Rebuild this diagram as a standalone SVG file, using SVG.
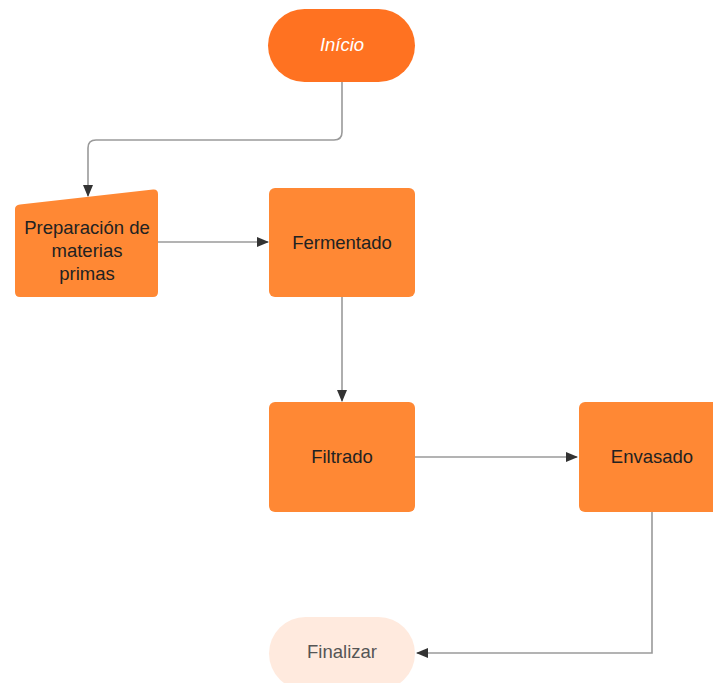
<svg xmlns="http://www.w3.org/2000/svg" width="713" height="683" viewBox="0 0 713 683">
<style>
.box{fill:#FF8834}
.lbl{font-family:"Liberation Sans",Arial,sans-serif;font-size:18.5px;fill:#222;text-anchor:middle;dominant-baseline:central}
.con{fill:none;stroke:#9a9a9a;stroke-width:1.6}
</style>
<defs>
<marker id="arr" viewBox="0 0 12 10" refX="11" refY="5" markerWidth="12" markerHeight="10" markerUnits="userSpaceOnUse" orient="auto">
<path d="M0,0 L12,5 L0,10 Z" fill="#333"/>
</marker>
</defs>
<rect width="713" height="683" fill="#fff"/>
<g id="connectors">
<path class="con" d="M342,82 V132 Q342,140 334,140 H96 Q88,140 88,148 V196" marker-end="url(#arr)"/>
<path class="con" d="M158,242 H268" marker-end="url(#arr)"/>
<path class="con" d="M342,297 V401" marker-end="url(#arr)"/>
<path class="con" d="M415,457 H577" marker-end="url(#arr)"/>
<path class="con" d="M652,511 V653 H417" marker-end="url(#arr)"/>
</g>
<g id="inicio">
<rect x="268" y="9" width="147" height="73" rx="36.5" fill="#FF7221"/>
<text class="lbl" x="342" y="44" style="fill:#fff;font-style:italic">Início</text>
</g>
<g id="preparacion">
<path class="box" d="M20,297 Q15,297 15,292 L15,209 Q15,205 20,204.5 L153,189.5 Q158,189 158,194 L158,292 Q158,297 153,297 Z"/>
<text class="lbl" x="87" y="227">Preparación de</text>
<text class="lbl" x="87" y="250">materias</text>
<text class="lbl" x="87" y="273">primas</text>
</g>
<g id="fermentado">
<rect class="box" x="269" y="188" width="146" height="109" rx="6"/>
<text class="lbl" x="342" y="242">Fermentado</text>
</g>
<g id="filtrado">
<rect class="box" x="269" y="402" width="146" height="110" rx="6"/>
<text class="lbl" x="342" y="456">Filtrado</text>
</g>
<g id="envasado">
<rect class="box" x="579" y="402" width="146" height="110" rx="6"/>
<text class="lbl" x="652" y="456">Envasado</text>
</g>
<g id="finalizar">
<rect x="269" y="617" width="146" height="73" rx="36.5" fill="#FFEADE"/>
<text class="lbl" x="342" y="651" style="fill:#555">Finalizar</text>
</g>
</svg>
